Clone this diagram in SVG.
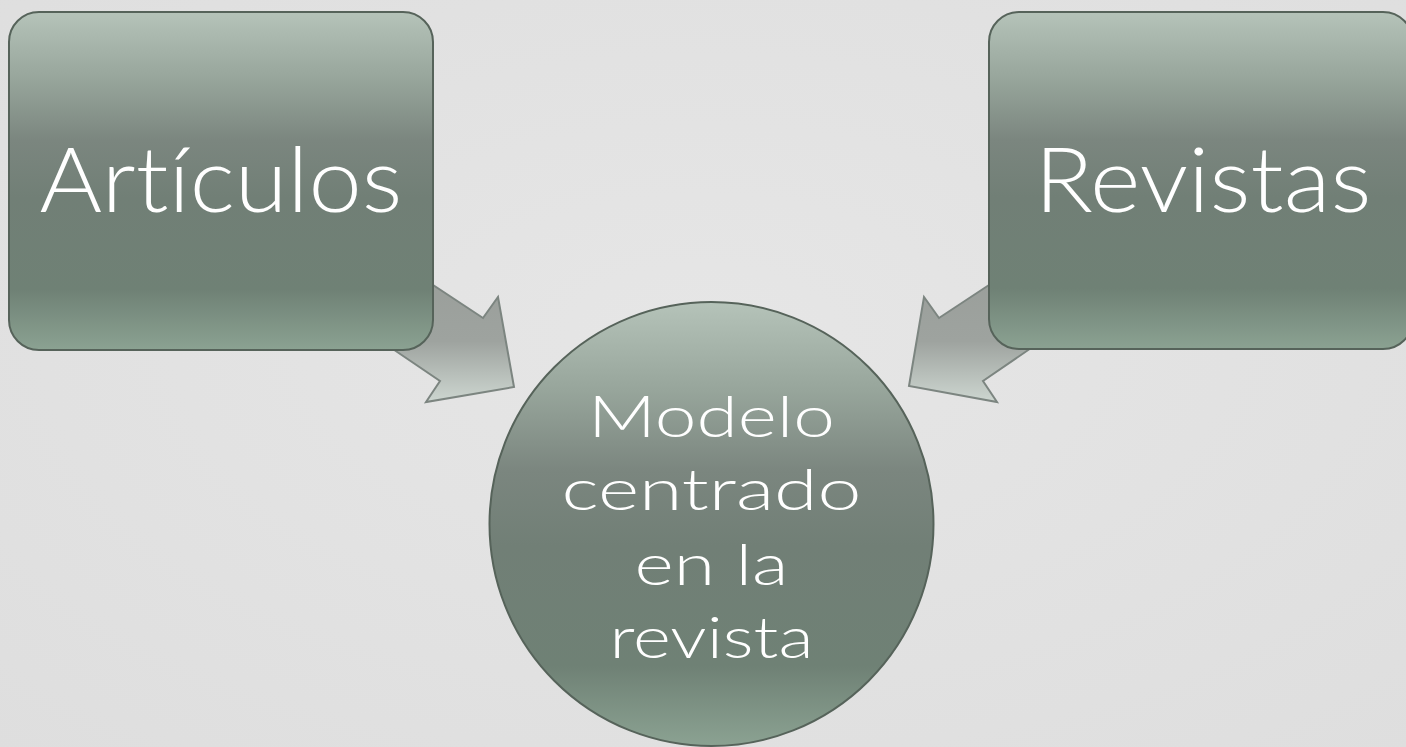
<svg xmlns="http://www.w3.org/2000/svg" width="1406" height="747" viewBox="0 0 1406 747">
<defs>
<linearGradient id="nodeGrad" x1="0" y1="0" x2="0" y2="1">
<stop offset="0" stop-color="#b5c3b9"/>
<stop offset="0.2" stop-color="#97a59b"/>
<stop offset="0.38" stop-color="#7b867f"/>
<stop offset="0.55" stop-color="#717f76"/>
<stop offset="0.82" stop-color="#6f8175"/>
<stop offset="1" stop-color="#8ba292"/>
</linearGradient>
<linearGradient id="arrowGrad" x1="0" y1="0" x2="0" y2="1">
<stop offset="0" stop-color="#999d99"/>
<stop offset="0.6" stop-color="#9ea39f"/>
<stop offset="1" stop-color="#cdd6d0"/>
</linearGradient>
<radialGradient id="bg" cx="0.5" cy="0.45" r="0.75">
<stop offset="0" stop-color="#e6e6e6"/>
<stop offset="1" stop-color="#dedede"/>
</radialGradient>
</defs>
<style>
.node{fill:url(#nodeGrad);stroke:#56635a;stroke-width:2}
.arrow{fill:url(#arrowGrad);stroke:#7c8580;stroke-width:2;stroke-linejoin:miter}
.big,.mid{font-family:"Lato","Liberation Sans",sans-serif;font-weight:300;fill:#ffffff;text-anchor:middle;font-variant-ligatures:none;font-feature-settings:"liga" 0,"dlig" 0}
.big{font-size:90px}
.mid{font-size:58px}
</style>
<rect x="0" y="0" width="1406" height="747" fill="url(#bg)"/>
<g id="connectors">
<polygon class="arrow" points="380,250 483,318 498,297 514,387 426,402 440,381 350,320"/>
<polygon class="arrow" points="1042,250 939,318 924,297 909,386 997,402 983,381 1072,320"/>
</g>
<g id="node-articulos">
<rect class="node" x="9" y="12" width="424" height="338" rx="30" ry="30"/>
<text class="big" x="221" y="212" textLength="363" lengthAdjust="spacingAndGlyphs">Artículos</text>
</g>
<g id="node-revistas">
<rect class="node" x="989" y="12" width="424" height="337" rx="30" ry="30"/>
<text class="big" x="1203" y="212" textLength="337" lengthAdjust="spacingAndGlyphs">Revistas</text>
</g>
<g id="node-modelo">
<circle class="node" cx="711.5" cy="524" r="222"/>
<text class="mid" x="711.5" y="437" textLength="247" lengthAdjust="spacingAndGlyphs">Modelo</text>
<text class="mid" x="711.5" y="510" textLength="300" lengthAdjust="spacingAndGlyphs">centrado</text>
<text class="mid" x="711.5" y="585" textLength="154" lengthAdjust="spacingAndGlyphs">en la</text>
<text class="mid" x="711.5" y="658" textLength="204" lengthAdjust="spacingAndGlyphs">revista</text>
</g>
</svg>
